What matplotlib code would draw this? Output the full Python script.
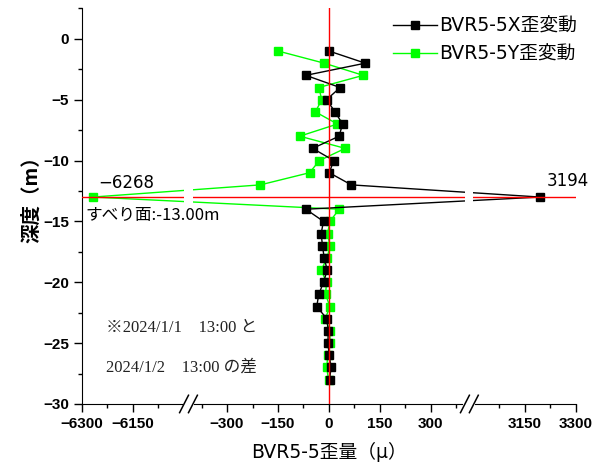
import numpy as np
import matplotlib
matplotlib.use('Agg')
import matplotlib.pyplot as plt
from matplotlib.ticker import FixedLocator, FixedFormatter

# depth (m) and strain change readings
depth = [-1, -2, -3, -4, -5, -6, -7, -8, -9, -10, -11, -12, -13, -14,
         -15, -16, -17, -18, -19, -20, -21, -22, -23, -24, -25, -26, -27, -28]
x_strain = [0, 107, -68, 33, -7, 18, 40, 30, -48, 14, 1, 66, 3194, -68,
            -16, -23, -19, -14, -5, -16, -30, -36, -6, -2, -3, 1, 6, 2]
y_strain = [-150, -14, 101, -30, -21, -40, 25, -86, 48, -28, -57, -202, -6268, 30,
            3, -4, 3, -5, -23, -7, -10, 3, -11, 3, 3, -3, -7, -1]

slip_depth = -13.0
major_ticks = [-6300, -6150, -300, -150, 0, 150, 300, 3150, 3300]
minor_ticks = [-6225, -6075, -375, -225, -75, 75, 225, 375, 3075, 3225]

# broken x axis: three pieces squeezed into one scale
G = 27
xp = [-1e6, -6300, -6000, -400, 400, 3000, 3300, 1e6]
fp = [-1e6 + 6300, 0, 300, 300 + G, 1100 + G, 1100 + 2 * G, 1400 + 2 * G, 1e6 - 3300 + 1400 + 2 * G]


def fwd(x):
    return np.interp(x, xp, fp)


def inv(v):
    return np.interp(v, fp, xp)


cjk = ['Noto Sans CJK JP', 'DejaVu Sans']
mixed = ['DejaVu Sans', 'Noto Sans CJK JP']

fig = plt.figure(figsize=(6.03, 4.67), dpi=100)
ax = fig.add_axes([0.136, 0.135, 0.819, 0.847])
ax.set_xscale('function', functions=(fwd, inv))
ax.set_xlim(-6300, 3300)
ax.set_ylim(-30, 2.5)

ax.plot(x_strain, depth, color='black', lw=1, marker='s', ms=6, label='BVR5-5X歪変動', zorder=3)
ax.plot(y_strain, depth, color='#00ff00', lw=1, marker='s', ms=6, label='BVR5-5Y歪変動', zorder=2)
ax.axvline(0, color='red', lw=1, zorder=4)
ax.axhline(slip_depth, color='red', lw=1, zorder=4)

# white bands + "//" marks at the breaks
span = fwd(3300) - fwd(-6300)
for a, b in [(-6000, -400), (400, 3000)]:
    c = (fwd(a) + fwd(b)) / 2 / span
    ax.axvspan(inv(c * span - 12), inv(c * span + 12), color='white', zorder=5, lw=0)
    ax.add_patch(plt.Rectangle((c - 0.012, -0.02), 0.024, 0.04, transform=ax.transAxes,
                               color='white', clip_on=False, zorder=6, lw=0))
    for d in (-0.009, 0.009):
        ax.plot([c + d - 0.009, c + d + 0.009], [-0.022, 0.022], color='black', lw=1.1,
                transform=ax.transAxes, clip_on=False, zorder=7)

for s in ['top', 'right']:
    ax.spines[s].set_visible(False)

ax.xaxis.set_major_locator(FixedLocator(major_ticks))
ax.xaxis.set_major_formatter(FixedFormatter([f'{t:g}'.replace('-', '\u2212') for t in major_ticks]))
ax.xaxis.set_minor_locator(FixedLocator(minor_ticks))
ax.set_yticks([0, -5, -10, -15, -20, -25, -30])
ax.set_yticks(np.arange(2.5, -30, -2.5), minor=True)
ax.tick_params(which='major', direction='out', length=6, width=1)
ax.tick_params(which='minor', direction='out', length=3, width=1)
for lab in ax.get_xticklabels() + ax.get_yticklabels():
    lab.set_fontfamily('Liberation Sans')
    lab.set_fontweight('bold')
    lab.set_fontsize(11)

ax.set_xlabel('BVR5-5歪量（μ）', family=mixed, fontsize=13.5, labelpad=8)
ax.set_ylabel('深度（m）', family=cjk, fontsize=14, fontweight='bold')
ax.yaxis.set_label_coords(-0.083, 0.53)

# peak labels
ax.annotate('\u22126268', xy=(y_strain[12], depth[12]), xytext=(5, 5), textcoords='offset pixels',
            family=mixed, fontsize=12, ha='left', va='bottom', zorder=8)
ax.annotate('3194', xy=(x_strain[12], depth[12]), xytext=(7, 7), textcoords='offset pixels',
            family=mixed, fontsize=12, ha='left', va='bottom', zorder=8)
ax.text(0.006, 0.476, 'すべり面:-13.00m', transform=ax.transAxes, family=cjk,
        fontsize=12, ha='left', va='center', zorder=8)

serif = ['Liberation Serif', 'Noto Sans CJK JP']
ax.text(0.049, 0.193, '※2024/1/1　13:00 と', transform=ax.transAxes, family=serif,
        fontsize=12, color='#222222', ha='left', va='center', zorder=8)
ax.text(0.049, 0.092, '2024/1/2　13:00 の差', transform=ax.transAxes, family=serif,
        fontsize=12, color='#222222', ha='left', va='center', zorder=8)

ax.legend(loc='upper left', bbox_to_anchor=(0.637, 0.985), bbox_transform=fig.transFigure,
          frameon=False, borderpad=0, handlelength=2.3, handletextpad=0.15,
          labelspacing=0.5, prop={'family': mixed, 'size': 13.5})

fig.savefig('out.png', dpi=100)
